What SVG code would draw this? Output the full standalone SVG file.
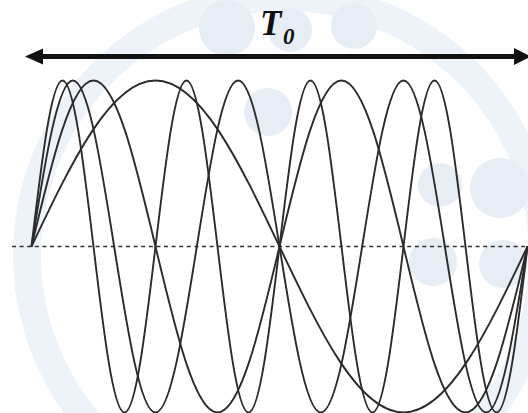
<svg xmlns="http://www.w3.org/2000/svg" width="528" height="413" viewBox="0 0 528 413">
  <style>
    .wm { fill: #e6edf5; }
    .wmring { fill: none; stroke: #eef3f9; stroke-width: 28; }
    .wave { fill: none; stroke: #2b2b2b; stroke-width: 1.9; stroke-linejoin: round; }
    .axis { fill: none; stroke: #333; stroke-width: 1.3; stroke-dasharray: 4 3.6; }
    .arrow { stroke: #111; stroke-width: 5; fill: none; }
    .head { fill: #111; }
    .lbl { font-family: "Liberation Serif", "Times New Roman", serif; font-weight: bold; font-style: italic; fill: #111; }
  </style>
  <rect width="528" height="413" fill="#ffffff"/>
  <g id="watermark">
    <circle class="wmring" cx="285" cy="255" r="258"/>
    <circle class="wm" cx="227" cy="28" r="28"/>
    <circle class="wm" cx="354" cy="26" r="23"/>
    <circle class="wm" cx="290" cy="30" r="22"/>
    <circle class="wm" cx="500" cy="188" r="30"/>
    <circle class="wm" cx="433" cy="262" r="24"/>
    <circle class="wm" cx="503" cy="264" r="24"/>
    <circle class="wm" cx="440" cy="185" r="22"/>
    <circle class="wm" cx="268" cy="112" r="24"/>
  </g>
  <g id="axis">
    <line class="axis" x1="12" y1="246.5" x2="528" y2="246.5"/>
  </g>
  <g id="waves">
    <path id="h1" class="wave" d="M31.5,246.5 c40.44,-85.04 79.12,-166 124,-166 s83.56,80.96 124,166 s79.12,166 124,166 s83.56,-80.96 124,-166"/>
    <path id="h2" class="wave" d="M31.5,246.5 c20.22,-85.04 39.56,-166 62,-166 s41.78,80.96 62,166 s39.56,166 62,166 s41.78,-80.96 62,-166 s39.56,-166 62,-166 s41.78,80.96 62,166 s39.56,166 62,166 s41.78,-80.96 62,-166"/>
    <path id="h3" class="wave" d="M31.5,246.5 c13.48,-85.04 26.37,-166 41.333,-166 s27.85,80.96 41.333,166 s26.37,166 41.333,166 s27.85,-80.96 41.333,-166 s26.37,-166 41.333,-166 s27.85,80.96 41.333,166 s26.37,166 41.333,166 s27.85,-80.96 41.333,-166 s26.37,-166 41.333,-166 s27.85,80.96 41.333,166 s26.37,166 41.333,166 s27.85,-80.96 41.333,-166"/>
    <path id="h4" class="wave" d="M31.5,246.5 c10.11,-85.04 19.78,-166 31,-166 s20.89,80.96 31,166 s19.78,166 31,166 s20.89,-80.96 31,-166 s19.78,-166 31,-166 s20.89,80.96 31,166 s19.78,166 31,166 s20.89,-80.96 31,-166 s19.78,-166 31,-166 s20.89,80.96 31,166 s19.78,166 31,166 s20.89,-80.96 31,-166 s19.78,-166 31,-166 s20.89,80.96 31,166 s19.78,166 31,166 s20.89,-80.96 31,-166"/>
  </g>
  <g id="connectors">
    <line class="arrow" x1="40" y1="56.5" x2="516" y2="56.5"/>
    <polygon class="head" points="25,56.5 43,48.5 43,64.5"/>
    <polygon class="head" points="531,56.5 514,48 514,65"/>
  </g>
  <g id="label">
    <text class="lbl" x="260" y="35" font-size="35">T<tspan font-size="23" x="283" y="44">0</tspan></text>
  </g>
</svg>
